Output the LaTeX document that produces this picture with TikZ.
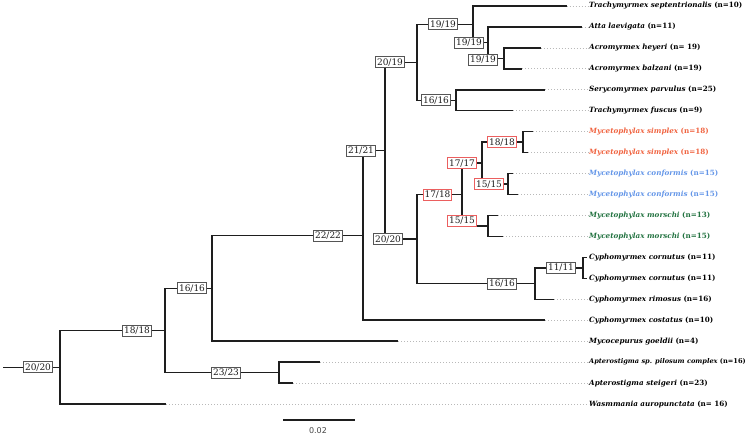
\documentclass[tikz,border=0pt]{standalone}
\usepackage{fontspec}
\setmainfont{DejaVu Serif}
\setsansfont{DejaVu Sans}
\definecolor{branchc}{RGB}{30,30,30}
\definecolor{dotc}{RGB}{185,185,185}
\definecolor{boxc}{RGB}{85,85,85}
\definecolor{redbox}{RGB}{235,95,95}
\definecolor{simplexc}{RGB}{240,100,65}
\definecolor{conformc}{RGB}{100,150,232}
\definecolor{morschic}{RGB}{35,115,65}
\definecolor{txtc}{RGB}{30,30,30}
\begin{document}
\begin{tikzpicture}[x=1pt,y=-1pt,
  br/.style={draw=branchc,line width=1.5pt,line join=miter},
  dotline/.style={draw=dotc,line width=0.7pt,dash pattern=on 1.3pt off 1.7pt},
  supbox/.style={draw=boxc,fill=white,line width=0.7pt,inner xsep=1.4pt,inner ysep=0pt,
    minimum height=11pt,text=txtc,font=\fontsize{9}{10}\selectfont},
  redsup/.style={supbox,draw=redbox,line width=0.9pt},
  leaf/.style={anchor=west,inner sep=0pt,text=black,font=\fontsize{7.2}{8}\selectfont\bfseries}]
\useasboundingbox (0,0) rectangle (748,435);
% leaf tips
\coordinate (t1) at (566.7,6.0);
\coordinate (t2) at (581.7,26.95);
\coordinate (t3) at (540.7,47.9);
\coordinate (t4) at (522,68.85);
\coordinate (t5) at (545,89.8);
\coordinate (t6) at (512.5,110.75);
\coordinate (t7) at (533,131.7);
\coordinate (t8) at (528,152.65);
\coordinate (t9) at (513,173.6);
\coordinate (t10) at (518,194.55);
\coordinate (t11) at (498,215.5);
\coordinate (t12) at (503,236.45);
\coordinate (t13) at (587,257.4);
\coordinate (t14) at (587,278.35);
\coordinate (t15) at (554,299.3);
\coordinate (t16) at (545,320.25);
\coordinate (t17) at (398,341.2);
\coordinate (t18) at (320,362.15);
\coordinate (t19) at (293,383.1);
\coordinate (t20) at (166,404.05);
% internal nodes
\coordinate (nA) at (504,58.4);
\coordinate (nB) at (488,42.65);
\coordinate (nC) at (473,24.3);
\coordinate (nD) at (456,100.3);
\coordinate (nE) at (417,62.3);
\coordinate (nSim) at (523,142.2);
\coordinate (nCon) at (508,184.1);
\coordinate (n1717) at (482,163.15);
\coordinate (nMor) at (488,226);
\coordinate (n1718) at (462,194.6);
\coordinate (n1111) at (583,267.9);
\coordinate (nCy) at (535,283.6);
\coordinate (nF) at (417,239.1);
\coordinate (n2121) at (385,150.7);
\coordinate (n2222) at (363,235.5);
\coordinate (n1616) at (212,288.3);
\coordinate (nApt) at (279,372.6);
\coordinate (n1818) at (165,330.5);
\coordinate (nRoot) at (60,367.3);
\coordinate (rootStart) at (3,367.3);
% leaf labels
\node[leaf] (l1) at (589,6.0) {\itshape Trachymyrmex septentrionalis \upshape(n=10)};
\node[leaf] (l2) at (589,26.95) {\itshape Atta laevigata \upshape(n=11)};
\node[leaf] (l3) at (589,47.9) {\itshape Acromyrmex heyeri \upshape(n= 19)};
\node[leaf] (l4) at (589,68.85) {\itshape Acromyrmex balzani \upshape(n=19)};
\node[leaf] (l5) at (589,89.8) {\itshape Serycomyrmex parvulus \upshape(n=25)};
\node[leaf] (l6) at (589,110.75) {\itshape Trachymyrmex fuscus \upshape(n=9)};
\node[leaf,text=simplexc] (l7) at (589,131.7) {\itshape Mycetophylax simplex \upshape(n=18)};
\node[leaf,text=simplexc] (l8) at (589,152.65) {\itshape Mycetophylax simplex \upshape(n=18)};
\node[leaf,text=conformc] (l9) at (589,173.6) {\itshape Mycetophylax conformis \upshape(n=15)};
\node[leaf,text=conformc] (l10) at (589,194.55) {\itshape Mycetophylax conformis \upshape(n=15)};
\node[leaf,text=morschic] (l11) at (589,215.5) {\itshape Mycetophylax morschi \upshape(n=13)};
\node[leaf,text=morschic] (l12) at (589,236.45) {\itshape Mycetophylax morschi \upshape(n=15)};
\node[leaf] (l13) at (589,257.4) {\itshape Cyphomyrmex cornutus \upshape(n=11)};
\node[leaf] (l14) at (589,278.35) {\itshape Cyphomyrmex cornutus \upshape(n=11)};
\node[leaf] (l15) at (589,299.3) {\itshape Cyphomyrmex rimosus \upshape(n=16)};
\node[leaf] (l16) at (589,320.25) {\itshape Cyphomyrmex costatus \upshape(n=10)};
\node[leaf] (l17) at (589,341.2) {\itshape Mycocepurus goeldii \upshape(n=4)};
\node[leaf,font=\fontsize{6.6}{8}\selectfont\bfseries] (l18) at (589,362.15) {\itshape Apterostigma sp. pilosum complex \upshape(n=16)};
\node[leaf] (l19) at (589,383.1) {\itshape Apterostigma steigeri \upshape(n=23)};
\node[leaf] (l20) at (589,404.05) {\itshape Wasmmania auropunctata \upshape(n= 16)};
% dotted guides
\foreach \i in {1,...,12,15,16,17,18,19,20}{\draw[dotline] (t\i) -- (l\i.west);}
% branches
\draw[br] (rootStart) -- (nRoot);
\draw[br] (nRoot) |- (n1818);
\draw[br] (nRoot) |- (t20);
\draw[br] (n1818) |- (n1616);
\draw[br] (n1818) |- (nApt);
\draw[br] (nApt) |- (t18);
\draw[br] (nApt) |- (t19);
\draw[br] (n1616) |- (n2222);
\draw[br] (n1616) |- (t17);
\draw[br] (n2222) |- (n2121);
\draw[br] (n2222) |- (t16);
\draw[br] (n2121) |- (nE);
\draw[br] (n2121) |- (nF);
\draw[br] (nE) |- (nC);
\draw[br] (nE) |- (nD);
\draw[br] (nC) |- (t1);
\draw[br] (nC) |- (nB);
\draw[br] (nB) |- (t2);
\draw[br] (nB) |- (nA);
\draw[br] (nA) |- (t3);
\draw[br] (nA) |- (t4);
\draw[br] (nD) |- (t5);
\draw[br] (nD) |- (t6);
\draw[br] (nF) |- (n1718);
\draw[br] (nF) |- (nCy);
\draw[br] (n1718) |- (n1717);
\draw[br] (n1718) |- (nMor);
\draw[br] (n1717) |- (nSim);
\draw[br] (n1717) |- (nCon);
\draw[br] (nSim) |- (t7);
\draw[br] (nSim) |- (t8);
\draw[br] (nCon) |- (t9);
\draw[br] (nCon) |- (t10);
\draw[br] (nMor) |- (t11);
\draw[br] (nMor) |- (t12);
\draw[br] (nCy) |- (n1111);
\draw[br] (nCy) |- (t15);
\draw[br] (n1111) |- (t13);
\draw[br] (n1111) |- (t14);
% support boxes
\node[supbox] (bRoot) at (38,367.3) {20/20};
\node[supbox] (b1818) at (137,330.5) {18/18};
\node[supbox] (b1616) at (192,288.3) {16/16};
\node[supbox] (b2323) at (226,372.6) {23/23};
\node[supbox] (b2222) at (328,235.5) {22/22};
\node[supbox] (b2121) at (361,150.7) {21/21};
\node[supbox] (b2019) at (390,62.3) {20/19};
\node[supbox] (b19a) at (443,24.3) {19/19};
\node[supbox] (b19b) at (469,42.65) {19/19};
\node[supbox] (b19c) at (483,60) {19/19};
\node[supbox] (b16s) at (436,100.3) {16/16};
\node[supbox] (b2020) at (388,239.1) {20/20};
\node[redsup] (b1718) at (437.5,194.6) {17/18};
\node[redsup] (b1717) at (462,163.15) {17/17};
\node[redsup] (b1818s) at (502,142.2) {18/18};
\node[redsup] (b1515c) at (489,184.1) {15/15};
\node[redsup] (b1515m) at (462,220.5) {15/15};
\node[supbox] (b16c) at (502,283.6) {16/16};
\node[supbox] (b1111) at (561,267.9) {11/11};
% scale bar
\coordinate (sbL) at (283,420);
\coordinate (sbR) at (355,420);
\draw[br] (sbL) -- (sbR);
\node[font=\sffamily\fontsize{8}{9}\selectfont,text={rgb,255:red,70;green,70;blue,70},inner sep=0pt] (sbT) at (318,431) {0.02};
\end{tikzpicture}
\end{document}
